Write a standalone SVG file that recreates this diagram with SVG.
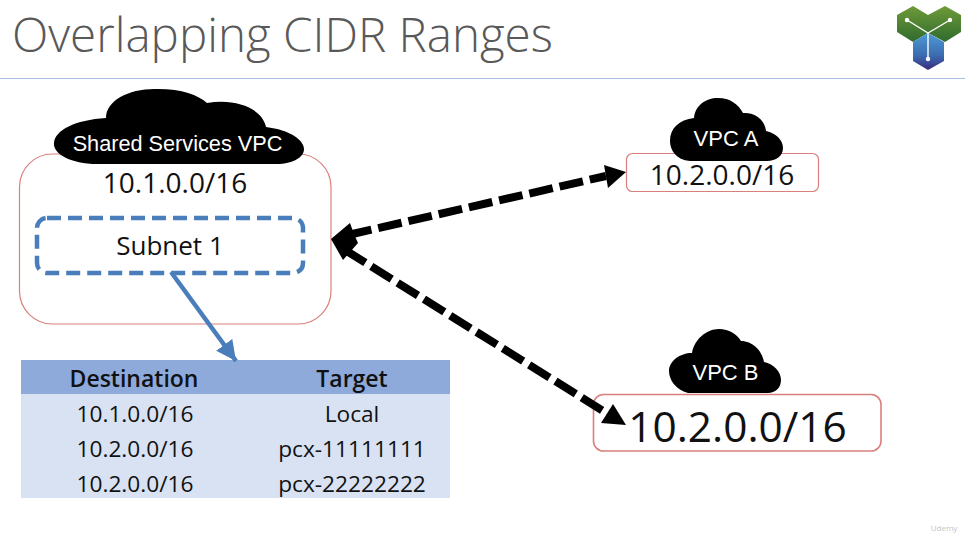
<svg xmlns="http://www.w3.org/2000/svg" width="965" height="543" viewBox="0 0 965 543">
<style>
text{font-family:"Open Sans","Noto Sans","Liberation Sans",sans-serif;fill:#111;text-anchor:middle}
.w{font-family:"Liberation Sans",Arial,sans-serif;fill:#fff}
.box{fill:#fff;stroke:#d9807c;stroke-width:1.2}
.t{font-size:22.7px}
.h{font-size:23px;font-weight:600}
.dash{fill:none;stroke:#000;stroke-width:8;stroke-dasharray:24 7}
</style>
<defs>
<linearGradient id="g" x1="0" y1="0" x2="0" y2="1"><stop offset="0" stop-color="#6f9a38"/><stop offset="1" stop-color="#2f6b2e"/></linearGradient>
<linearGradient id="b" x1="0" y1="0" x2="0" y2="1"><stop offset="0" stop-color="#4f9ad6"/><stop offset="0.6" stop-color="#3a6db0"/><stop offset="1" stop-color="#3b2a7c"/></linearGradient>
<marker id="hb" markerUnits="userSpaceOnUse" markerWidth="24" markerHeight="24" refX="20" refY="10" orient="auto"><path d="M0 0L20 10L0 20z" fill="#4a7ebb"/></marker>
</defs>
<rect width="965" height="543" fill="#fff"/>
<g id="title">
<text x="12" y="52" style="text-anchor:start;font-size:47.5px;font-weight:300;fill:#595959">Overlapping CIDR Ranges</text>
<line x1="0" y1="78.5" x2="965" y2="78.5" stroke="#a9bfe3" stroke-width="1.2"/>
</g>
<g id="logo">
<path d="M897 15L913 6L928 15L928 33L913 42L897 32z" fill="url(#g)"/>
<path d="M928 15L945 6L961 15L961 32L945 42L928 33z" fill="url(#g)"/>
<path d="M913 42L928 33L944 42L944 61L928 70L913 61z" fill="url(#b)"/>
<path d="M907 20L928 33L950 20M928 33V59" fill="none" stroke="#fff" stroke-width="1.4"/>
<circle cx="907" cy="20" r="2.2" fill="#fff"/><circle cx="950" cy="20" r="2.2" fill="#fff"/><circle cx="928" cy="59" r="2.2" fill="#fff"/>
</g>
<g id="shared-vpc">
<rect class="box" x="19.5" y="154" width="311.5" height="170" rx="33"/>
<path d="M92 164C66 162 53 152 54 143C55 130 75 120 106 118C106 100 130 88 158 89C182 89 198 95 207 103C235 98 262 108 266 127C290 130 304 140 304 149C304 158 292 163 280 164z" fill="#000"/>
<text class="w" x="177.500" y="151" font-size="21.700">Shared Services VPC</text>
<text x="175" y="193" font-size="28">10.1.0.0/16</text>
</g>
<g id="subnet-1">
<rect x="37" y="218" width="266" height="55" rx="10" fill="none" stroke="#4a7ebb" stroke-width="4.500" stroke-dasharray="14 7"/>
<text x="170" y="255" font-size="26">Subnet 1</text>
</g>
<g id="vpc-a">
<rect class="box" x="626.500" y="153.500" width="192" height="38" rx="6"/>
<path d="M690 161C676 160 670 150 670 141C670 128 679 120 694 118C695 106 705 98 718 98C730 98 738 104 743 113C755 112 765 120 766 131C776 133 783 140 783 148C783 156 776 161 767 161z" fill="#000"/>
<text class="w" x="726" y="146" font-size="22">VPC A</text>
<text x="722" y="185" font-size="28">10.2.0.0/16</text>
</g>
<g id="vpc-b">
<rect class="box" x="593.500" y="394.500" width="287.500" height="56.500" rx="10" style="stroke-width:1.600"/>
<path d="M688 393C676 390 669 380 669 371C669 361 680 353 692 353C694 340 706 329 719 329C729 329 737 334 741 341C752 341 762 350 764 362C774 364 781 372 781 380C781 388 775 393 768 393z" fill="#000"/>
<text class="w" x="725.500" y="380" font-size="22">VPC B</text>
<text x="737.500" y="442" font-size="42.400">10.2.0.0/16</text>
</g>
<g id="route-table">
<rect x="21" y="360" width="429" height="34" fill="#8eaadb"/>
<rect x="21" y="394" width="429" height="104" fill="#d9e2f3"/>
<text class="h" x="134" y="387">Destination</text>
<text class="h" x="352" y="387">Target</text>
<text class="t" x="135" y="422">10.1.0.0/16</text><text class="t" x="352" y="422">Local</text>
<text class="t" x="135" y="457">10.2.0.0/16</text><text class="t" x="352" y="457">pcx-11111111</text>
<text class="t" x="135" y="492">10.2.0.0/16</text><text class="t" x="352" y="492">pcx-22222222</text>
</g>
<g id="connectors">
<line x1="171" y1="272" x2="236" y2="361" stroke="#4a7ebb" stroke-width="4.500" marker-end="url(#hb)"/>
<path class="dash" d="M348 235L606 176"/>
<path class="dash" d="M345 250L608 414"/>
<path d="M331 239L350 223L354 234L358 243L343 260z" fill="#000"/>
<path d="M626 172L604 165L608 188z" fill="#000"/>
<path d="M626 425L601 423L613 404z" fill="#000"/>
</g>
<g id="watermark" opacity="0.7">
<text x="944" y="531" font-size="8" style="fill:#aaa">Udemy</text>
</g>
</svg>
